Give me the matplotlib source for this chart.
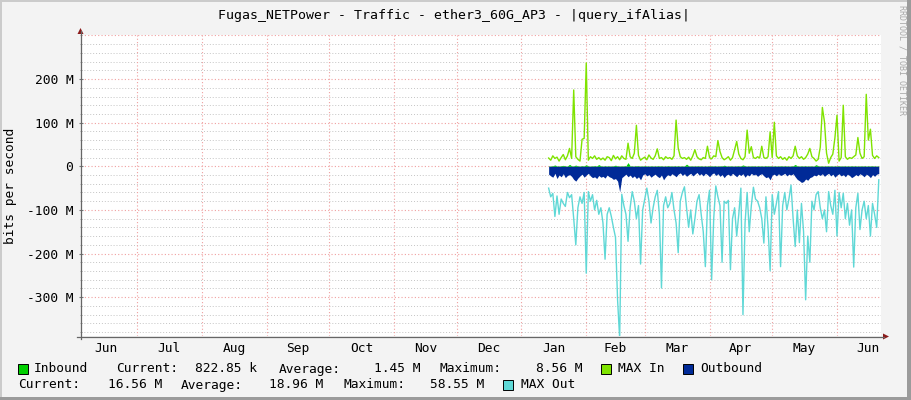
import numpy as np
import matplotlib
matplotlib.use('Agg')
import matplotlib.pyplot as plt
import matplotlib.dates as mdates
from matplotlib.patches import Rectangle, Polygon
from matplotlib.lines import Line2D
import datetime as dt

# ---------------- data (values in M bits/s, daily) ----------------
start_date = dt.datetime(2023, 1, 14)

max_in = [19, 14, 24, 18, 21, 12, 20, 27, 15, 24,
          41, 18, 175, 22, 16, 12, 62, 64, 237, 14,
          22, 18, 24, 16, 20, 15, 19, 14, 22, 20,
          13, 25, 17, 22, 15, 24, 18, 16, 53, 22,
          18, 30, 94, 25, 14, 18, 21, 15, 26, 19,
          16, 24, 40, 18, 20, 15, 22, 18, 20, 16,
          24, 106, 42, 22, 18, 20, 16, 21, 14, 24,
          38, 22, 17, 15, 20, 18, 46, 20, 17, 24,
          22, 59, 34, 20, 15, 18, 22, 14, 20, 38,
          57, 28, 18, 15, 22, 83, 30, 45, 20, 18,
          22, 19, 46, 20, 18, 22, 79, 20, 101, 24,
          18, 22, 16, 20, 14, 22, 18, 24, 46, 24,
          18, 22, 16, 20, 28, 41, 22, 18, 12, 16,
          44, 135, 102, 30, 7, 20, 28, 65, 117, 12,
          20, 140, 22, 16, 20, 18, 22, 26, 66, 30,
          18, 22, 165, 60, 85, 25, 18, 24, 20]

max_out = [50, 70, 62, 115, 68, 110, 75, 85, 92, 60,
           72, 65, 120, 180, 95, 70, 85, 60, 245, 58,
           80, 65, 100, 78, 110, 95, 130, 213, 110, 95,
           115, 140, 163, 307, 395, 64, 90, 110, 172, 95,
           58, 80, 120, 90, 224, 100, 75, 50, 80, 130,
           95, 70, 55, 110, 279, 90, 70, 95, 85, 60,
           100, 130, 198, 80, 60, 47, 95, 140, 100, 155,
           120, 80, 65, 110, 150, 230, 90, 55, 260, 120,
           45, 70, 90, 220, 80, 85, 78, 237, 120, 95,
           160, 110, 50, 340, 130, 60, 150, 90, 48, 75,
           80, 95, 120, 176, 70, 140, 239, 65, 110, 85,
           58, 230, 90, 60, 100, 75, 43, 120, 184, 100,
           175, 85, 150, 306, 160, 220, 80, 100, 65, 58,
           95, 120, 100, 150, 58, 90, 110, 55, 160, 60,
           95, 62, 120, 85, 135, 100, 231, 95, 62, 145,
           100, 80, 120, 90, 160, 85, 110, 140, 31]

outbound = [18, 22, 25, 16, 28, 20, 24, 17, 26, 21,
            19, 23, 30, 34, 27, 22, 18, 25, 20, 16,
            22, 26, 24, 28, 21, 25, 23, 27, 20, 24,
            26, 30, 28, 34, 58.55, 26, 22, 18, 24, 20,
            26, 22, 28, 24, 31, 20, 17, 22, 19, 25,
            21, 18, 23, 26, 20, 31, 24, 19, 22, 17,
            20, 24, 18, 15, 21, 17, 23, 19, 16, 22,
            18, 14, 20, 17, 22, 16, 19, 24, 18, 15,
            21, 17, 23, 19, 26, 20, 18, 22, 16, 20,
            24, 18, 21, 17, 25, 19, 22, 16, 20, 18,
            23, 19, 17, 22, 26, 24, 31, 20, 18, 22,
            17, 21, 19, 16, 22, 18, 20, 17, 24, 30,
            33, 37, 35, 29, 32, 26, 24, 20, 22, 18,
            21, 17, 23, 19, 16, 22, 18, 25, 20, 17,
            22, 19, 24, 18, 21, 26, 23, 19, 22, 17,
            20, 24, 18, 21, 26, 19, 23, 18, 16.56]

inbound = [1.2, 0.8, 1.5, 3.0, 1.0, 0.9, 1.4, 2.2, 1.1, 0.8,
           4.5, 1.0, 1.3, 2.8, 1.1, 0.9, 1.6, 1.2, 3.5, 1.0,
           0.8, 1.2, 1.5, 1.0, 4.0, 1.1, 0.9, 1.3, 1.0, 1.2,
           0.8, 1.4, 2.5, 1.1, 1.0, 0.9, 1.3, 1.2, 8.56, 1.0,
           1.1, 0.8, 1.5, 1.2, 0.9, 1.0, 1.4, 1.1, 0.8, 1.2,
           1.0, 0.9, 1.3, 1.1, 1.2, 0.8, 1.0, 1.4, 1.1, 0.9,
           1.2, 1.0, 1.3, 0.8, 1.1, 0.9, 5.0, 1.2, 1.0, 1.1,
           0.9, 1.3, 1.0, 1.2, 0.8, 1.1, 0.9, 1.4, 1.0, 1.2,
           1.1, 0.8, 1.3, 1.0, 2.5, 1.1, 0.9, 1.2, 1.0, 0.8,
           1.3, 1.1, 1.0, 3.2, 1.2, 0.9, 1.1, 1.0, 1.3, 0.8,
           1.2, 1.0, 1.1, 0.9, 1.4, 1.0, 1.2, 0.8, 1.1, 1.0,
           0.9, 1.3, 1.0, 1.2, 1.1, 0.8, 1.0, 1.4, 4.2, 1.1,
           0.9, 1.2, 1.0, 1.3, 0.8, 1.1, 1.0, 0.9, 3.8, 1.2,
           1.0, 1.1, 0.8, 1.3, 1.0, 1.2, 0.9, 1.1, 1.0, 1.4,
           0.8, 1.2, 1.0, 1.1, 0.9, 1.3, 1.0, 1.2, 0.8, 1.1,
           1.0, 1.2, 0.9, 1.1, 1.0, 1.3, 0.8, 1.0, 0.82]

month_labels = ['Jun', 'Jul', 'Aug', 'Sep', 'Oct', 'Nov', 'Dec',
                'Jan', 'Feb', 'Mar', 'Apr', 'May', 'Jun']
y_major = [-300, -200, -100, 0, 100, 200]
y_major_labels = ['-300 M', '-200 M', '-100 M', '0', '100 M', '200 M']

title = 'Fugas_NETPower - Traffic - ether3_60G_AP3 - |query_ifAlias|'

legend_line1 = [('Inbound', 33.7), ('Current:', 116), ('822.85 k', 194.6),
                ('Average:', 279), ('1.45 M', 373.6), ('Maximum:', 440),
                ('8.56 M', 535.7), ('MAX In', 618), ('Outbound', 700)]
legend_line2 = [('Current:', 18.6), ('16.56 M', 107.5), ('Average:', 180.7),
                ('18.96 M', 269), ('Maximum:', 343), ('58.55 M', 430.5),
                ('MAX Out', 520.6)]

C_IN = '#00CF00'
C_MAXIN = '#7FE300'
C_OUT = '#002A97'
C_MAXOUT = '#5FD8D6'

# ---------------- figure ----------------
W, H = 911, 400
def fx(x):
    return x / W
def fy(y):
    return 1 - y / H

MONO = 'DejaVu Sans Mono'
plt.rcParams['font.family'] = MONO

fig = plt.figure(figsize=(W / 100, H / 100), dpi=100, facecolor='#F3F3F3')

# border shading
fig.patches.append(Rectangle((0, 0), fx(2), 1, transform=fig.transFigure, color='#CBCBCB', lw=0))
fig.patches.append(Rectangle((0, fy(2)), 1, 2 / H, transform=fig.transFigure, color='#CBCBCB', lw=0))
fig.patches.append(Rectangle((fx(W - 4), 0), fx(4), 1, transform=fig.transFigure, color='#9B9B9B', lw=0))
fig.patches.append(Rectangle((0, 0), 1, 3 / H, transform=fig.transFigure, color='#9B9B9B', lw=0))

ax = fig.add_axes([fx(81), fy(336), 800 / W, 301 / H])
ax.set_facecolor('white')
for s in ax.spines.values():
    s.set_visible(False)

left = mdates.date2num(dt.datetime(2022, 7, 1)) - 26.8
right = mdates.date2num(dt.datetime(2023, 6, 1)) + 21.06
ax.set_xlim(left, right)
ax.set_ylim(-389, 301)

# grid
for v in range(-380, 301, 20):
    if v % 100 == 0:
        ax.axhline(v, color='#F0A0A0', lw=0.8, ls=(0, (1, 2)), zorder=0.5)
    else:
        ax.axhline(v, color='#C4C4C4', lw=0.7, ls=(0, (1, 2)), zorder=0.4)

month_starts = [dt.datetime(2022, m, 1) for m in range(6, 13)] + \
               [dt.datetime(2023, m, 1) for m in range(1, 8)]
ms_num = [mdates.date2num(d) for d in month_starts]
for v in ms_num[1:-1]:
    ax.axvline(v, color='#F0A0A0', lw=0.8, ls=(0, (1, 2)), zorder=0.5)
mids = [(ms_num[i] + ms_num[i + 1]) / 2 for i in range(len(ms_num) - 1)]

# data
xs = [mdates.date2num(start_date + dt.timedelta(days=i)) for i in range(len(max_in))]
xs = np.array(xs)
ax.fill_between(xs, 0, np.array(inbound), color=C_IN, lw=0, zorder=2)
ax.plot(xs, np.array(max_in), color=C_MAXIN, lw=1.0, zorder=3)
ax.fill_between(xs, 0, -np.array(outbound), color=C_OUT, lw=0, zorder=4)
ax.plot(xs, -np.array(max_out), color=C_MAXOUT, lw=1.0, zorder=5)

# ticks
ax.set_yticks(y_major)
ax.set_yticklabels(y_major_labels)
ax.set_yticks(list(range(-380, 301, 20)), minor=True)
ax.tick_params(axis='y', which='major', length=3, direction='inout', width=0.8,
               color='#777777', pad=4, labelsize=9.3, labelcolor='black')
ax.tick_params(axis='y', which='minor', length=2, direction='inout', width=0.6,
               color='#999999')
ax.set_xticks(ms_num[1:-1])
ax.set_xticklabels([])
ax.set_xticks(mids, minor=True)
ax.set_xticklabels(month_labels, minor=True)
ax.tick_params(axis='x', which='major', length=0)
ax.tick_params(axis='x', which='minor', length=0, pad=4, labelsize=9.3, labelcolor='black')

# axis lines and arrows (figure pixel coords)
fig.add_artist(Line2D([fx(80.5), fx(80.5)], [fy(339), fy(31)], transform=fig.transFigure,
                      color='#666666', lw=0.9))
fig.add_artist(Line2D([fx(77), fx(884)], [fy(336.5), fy(336.5)], transform=fig.transFigure,
                      color='#666666', lw=0.9))
fig.add_artist(Polygon([[fx(77.5), fy(34)], [fx(83.5), fy(34)], [fx(80.5), fy(28)]],
                       closed=True, transform=fig.transFigure, color='#8B1A1A', lw=0))
fig.add_artist(Polygon([[fx(883), fy(333.5)], [fx(883), fy(339.5)], [fx(889), fy(336.5)]],
                       closed=True, transform=fig.transFigure, color='#8B1A1A', lw=0))

# texts
fig.text(fx(454), fy(15), title, ha='center', va='center', fontsize=9.5, color='black')
fig.text(fx(11), fy(186), 'bits per second', rotation=90, ha='center', va='center',
         fontsize=9.3, color='black')
fig.text(fx(902), fy(60), 'RRDTOOL / TOBI OETIKER', rotation=270, ha='center', va='center',
         fontsize=6, color='#A8A8A8')

# legend
def box(x, y, c):
    fig.patches.append(Rectangle((fx(x), fy(y + 10)), 10 / W, 10 / H, transform=fig.transFigure,
                                 facecolor=c, edgecolor='black', lw=0.7))

box(17.5, 363.5, C_IN)
box(601, 363.5, C_MAXIN)
box(683, 363.5, C_OUT)
box(503, 379.5, C_MAXOUT)
for t, x in legend_line1:
    fig.text(fx(x), fy(369), t, ha='left', va='center', fontsize=9.3, color='black')
for t, x in legend_line2:
    fig.text(fx(x), fy(385), t, ha='left', va='center', fontsize=9.3, color='black')

fig.savefig('out.png', dpi=100, facecolor=fig.get_facecolor())
